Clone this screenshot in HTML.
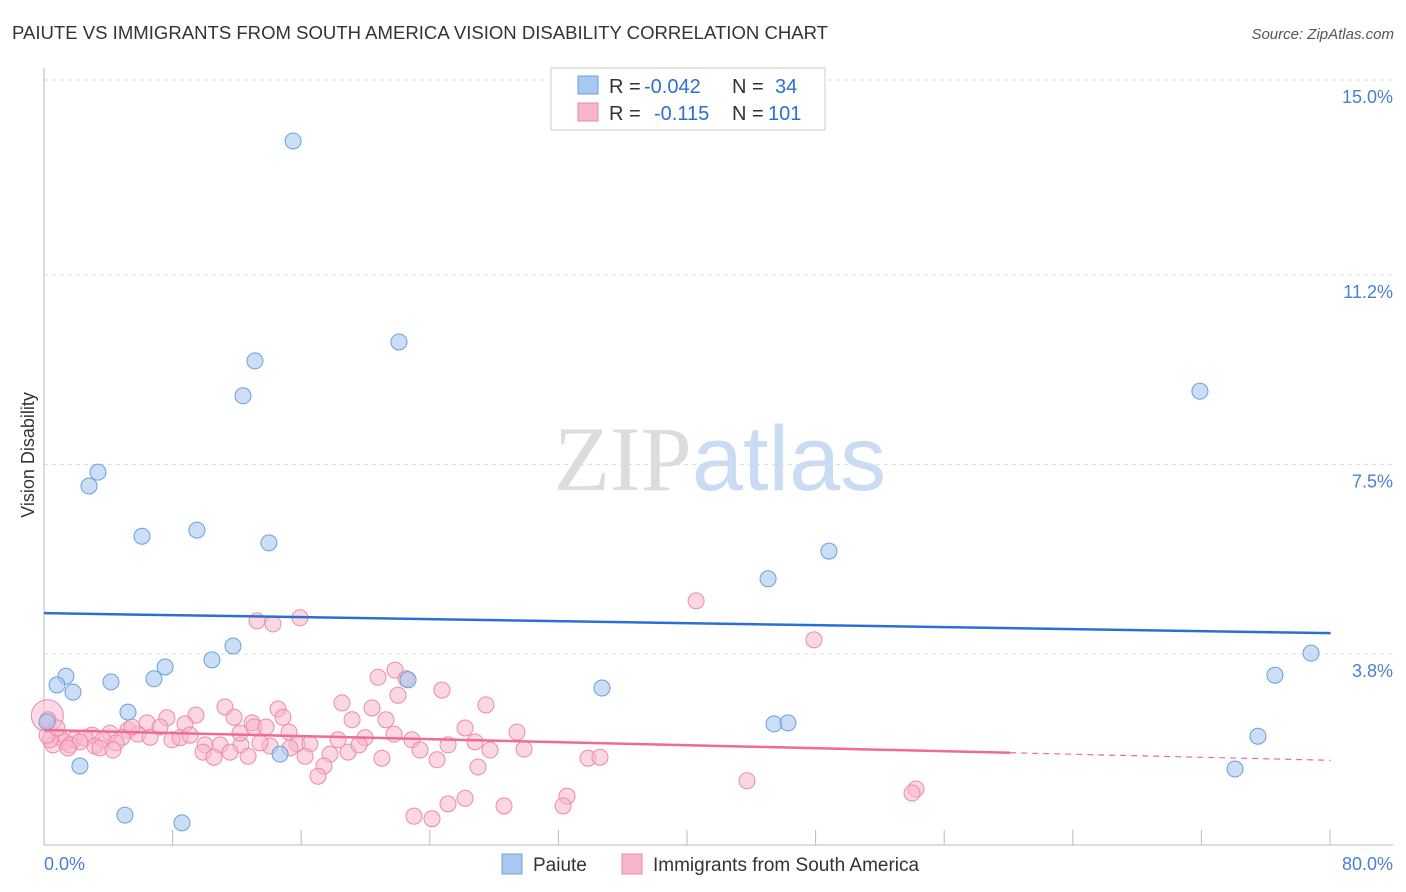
<!DOCTYPE html>
<html><head><meta charset="utf-8"><style>
body{margin:0;background:#fff;font-family:"Liberation Sans",sans-serif;}
svg{display:block}
</style></head><body>
<svg width="1406" height="892" xmlns="http://www.w3.org/2000/svg" id="chart">
<text x="12" y="39" font-size="18" fill="#333" textLength="816" lengthAdjust="spacingAndGlyphs">PAIUTE VS IMMIGRANTS FROM SOUTH AMERICA VISION DISABILITY CORRELATION CHART</text>
<text x="1394" y="39" font-size="15" fill="#555" text-anchor="end" font-style="italic">Source: ZipAtlas.com</text>
<text x="720" y="490" font-size="92" text-anchor="middle"><tspan fill="#dcdcdc" font-family="Liberation Serif">ZIP</tspan><tspan fill="#c9dcf3">atlas</tspan></text>
<g id="grid"></g>
<g id="axes"></g>
<g id="pink"></g>
<g id="blue"></g>
<g id="lines"></g>
<text transform="translate(34,455) rotate(-90)" font-size="18" fill="#333" text-anchor="middle">Vision Disability</text>
<g>
<rect x="551" y="68" width="274" height="62" fill="#fff" stroke="#ccc"/>
<rect x="578" y="76" width="20" height="18" fill="#a9c8f0" stroke="#6a9fe0"/>
<rect x="578" y="103" width="20" height="18" fill="#f7b6cb" stroke="#ee8aaa"/>
<text x="609" y="93" font-size="20" fill="#333">R =</text>
<text x="644" y="93" font-size="20" fill="#2b6fd6">-0.042</text>
<text x="732" y="93" font-size="20" fill="#333">N =</text>
<text x="775" y="93" font-size="20" fill="#2b6fd6">34</text>
<text x="609" y="120" font-size="20" fill="#333">R =</text>
<text x="654" y="120" font-size="20" fill="#2b6fd6">-0.115</text>
<text x="732" y="120" font-size="20" fill="#333">N =</text>
<text x="768" y="120" font-size="20" fill="#2b6fd6">101</text>
</g>
<g>
<rect x="502" y="854" width="20" height="20" fill="#a9c8f0" stroke="#6a9fe0"/>
<text x="533" y="871" font-size="19" fill="#333">Paiute</text>
<rect x="622" y="854" width="20" height="20" fill="#f7b6cb" stroke="#ee8aaa"/>
<text x="653" y="871" font-size="19" fill="#333">Immigrants from South America</text>
</g>
</svg>
<script>
const yTicks=[15.0,11.2,7.5,3.8];
const yTickLabels=["15.0%","11.2%","7.5%","3.8%"];
const xTickLabels=["0.0%","80.0%"];
const bluePx=[[293,141],[399,342],[255,361],[243,396],[1200,391],[98,472],[89,486],[142,536],[197,530],[269,543],[829,551],[768,579],[233,646],[212,660],[165,667],[154,679],[111,682],[66,676],[57,685],[73,692],[408,680],[602,688],[1311,653],[1275,675],[128,712],[47,722],[774,724],[788,723],[1258,736],[280,754],[80,766],[1235,769],[125,815],[182,823]];
const pinkPx=[[696,601],[814,640],[257,621],[273,624],[300,618],[395,670],[378,677],[406,679],[442,690],[398,695],[342,703],[372,708],[486,705],[225,707],[278,709],[234,717],[196,715],[167,718],[252,723],[283,717],[147,723],[128,730],[110,733],[92,735],[74,740],[60,738],[352,720],[386,720],[465,728],[517,732],[254,727],[266,727],[289,732],[185,724],[160,727],[138,734],[122,737],[103,740],[85,738],[65,742],[53,745],[50,740],[70,745],[95,746],[116,743],[172,740],[205,745],[220,745],[241,745],[270,746],[297,744],[310,744],[338,740],[365,738],[412,740],[448,745],[475,742],[490,750],[524,749],[203,752],[214,757],[230,752],[248,756],[305,756],[330,754],[348,752],[420,750],[382,758],[437,760],[478,767],[588,758],[600,757],[324,766],[318,776],[747,781],[916,789],[912,793],[465,798],[448,804],[504,806],[567,796],[563,806],[414,816],[432,819],[47,735],[48,720],[57,728],[100,748],[180,738],[290,748],[359,745],[394,734],[260,743],[150,737],[132,727],[190,735],[80,742],[68,748],[113,750],[240,733]];
const r2=v=>Math.round(v*100)/100;
const blueX=bluePx.map(p=>r2((p[0]-44)/1349*80)), blueY=bluePx.map(p=>r2((849-p[1])/51.27));
const pinkX=pinkPx.map(p=>r2((p[0]-44)/1349*80)), pinkY=pinkPx.map(p=>r2((849-p[1])/51.27));
const blueTrend=[4.6,4.21], pinkTrend=[2.32,1.73];
const X=v=>44+v/80*1349, Y=v=>849-v*51.27;
const NS="http://www.w3.org/2000/svg";
function mk(t,a,parent){const e=document.createElementNS(NS,t);for(const k in a)e.setAttribute(k,a[k]);document.getElementById(parent).appendChild(e);return e;}
yTicks.forEach((t,i)=>{
 const l=mk('line',{x1:44,x2:1393,y1:Y(t),y2:Y(t),stroke:'#ddd','stroke-dasharray':'4,4'},'grid');
 
 
 const tx=mk('text',{x:1393,y:Y(t)+23,'font-size':18,fill:'#4a7fd4','text-anchor':'end'},'axes');
 tx.textContent=yTickLabels[i];
 
 
});
const ax=mk('line',{x1:44,x2:1393,y1:845,y2:845,stroke:'#bbb'},'axes');


const ay=mk('line',{x1:44,x2:44,y1:68,y2:845,stroke:'#bbb'},'axes');


for(let i=0;i<=10;i++){const x=44+i*128.6;const t=mk('line',{x1:x,x2:x,y1:830,y2:845,stroke:'#bbb'},'axes');
 
 }
[[44,'start',0],[1393,'end',1]].forEach(a=>{const t=mk('text',{x:a[0],y:870,'font-size':18,fill:'#4a7fd4','text-anchor':a[1]},'axes');t.textContent=xTickLabels[a[2]];
 
 });
const big=mk('circle',{cx:X(0.2),cy:Y(2.6),r:16,fill:'#f7b6cb','fill-opacity':0.5,stroke:'#ee8aaa'},'pink');


pinkX.forEach((x,i)=>{const c=mk('circle',{cx:X(x),cy:Y(pinkY[i]),r:8,fill:'#f7b6cb','fill-opacity':0.55,stroke:'#ee8aaa','stroke-width':1},'pink');
 
 });
blueX.forEach((x,i)=>{const c=mk('circle',{cx:X(x),cy:Y(blueY[i]),r:8,fill:'#a9c8f0','fill-opacity':0.6,stroke:'#6a9fe0','stroke-width':1},'blue');
 
 });
const bl=mk('line',{x1:X(0),y1:Y(blueTrend[0]),x2:X(76.3),y2:Y(blueTrend[1]),stroke:'#2b6fd6','stroke-width':2.5},'lines');


const pe=pinkTrend[0]+(pinkTrend[1]-pinkTrend[0])*(57.3/76.3);
const pl=mk('line',{x1:X(0),y1:Y(pinkTrend[0]),x2:X(57.3),y2:Y(pe),stroke:'#ee6a98','stroke-width':2.5},'lines');


const pd=mk('line',{x1:X(57.3),y1:Y(pe),x2:X(76.3),y2:Y(pinkTrend[1]),stroke:'#ee6a98','stroke-width':1.2,'stroke-dasharray':'6,5'},'lines');


</script>
</body></html>
